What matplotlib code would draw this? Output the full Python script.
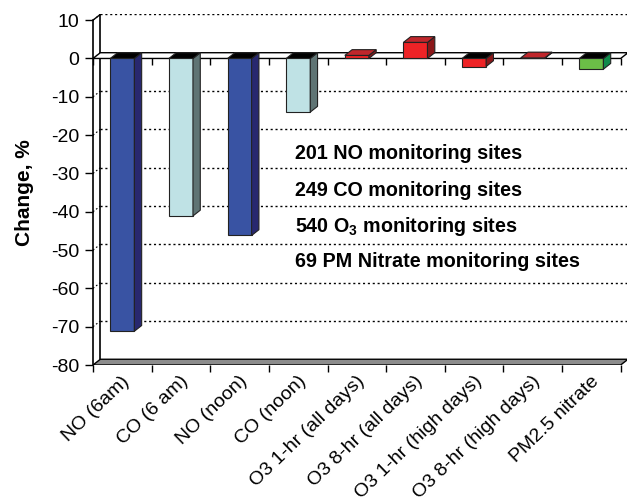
import numpy as np
import matplotlib.pyplot as plt
from matplotlib.patches import Polygon
from matplotlib.transforms import ScaledTranslation

plt.rcParams['font.family'] = 'Liberation Sans'
plt.rcParams['axes.unicode_minus'] = False
plt.rcParams['mathtext.fontset'] = 'custom'
plt.rcParams['mathtext.bf'] = 'Liberation Sans:bold'
plt.rcParams['mathtext.rm'] = 'Liberation Sans'

categories = ['NO (6am)', 'CO (6 am)', 'NO (noon)', 'CO (noon)',
              'O3 1-hr (all days)', 'O3 8-hr (all days)',
              'O3 1-hr (high days)', 'O3 8-hr (high days)', 'PM2.5 nitrate']
change = [-71.2, -41.1, -46.2, -14.0, 0.8, 4.2, -2.1, 0.15, -2.8]

# front / side / top colours per bar
front_col = ['#3953a3', '#bfe2e5', '#3953a3', '#bfe2e5',
             '#ee2326', '#ee2326', '#ee2326', '#ee2326', '#6bbf47']
side_col = ['#28286f', '#5f7474', '#28286f', '#5f7474',
            '#8b1719', '#8b1719', '#8b1719', '#8b1719', '#0f8a4b']
top_pos_col = '#c0262b'

notes = ['201 NO monitoring sites', '249 CO monitoring sites',
         r'540 O$_\mathbf{3}$ monitoring sites', '69 PM Nitrate monitoring sites']

n = len(categories)
dx, dy = 0.125, 1.5     # depth offset of the 3d box
bw = 0.41               # bar width
ymin, ymax = -80, 10

fig = plt.figure(figsize=(6.27, 5.04), dpi=100)
ax = fig.add_axes([93 / 627, 139 / 504, 535 / 627, 350.6 / 504])
ax.set_xlim(0, n + dx)
ax.set_ylim(ymin, ymax + dy)
for s in ['top', 'right', 'bottom']:
    ax.spines[s].set_visible(False)
ax.spines['left'].set_bounds(ymin, ymax)
ax.spines['left'].set_linewidth(1.2)

# back wall gridlines
grid = np.arange(ymin + 10, ymax + 1, 10)
ax.hlines(grid + dy, dx, n + dx, colors='black', lw=1, linestyles=(0, (1.5, 2)), zorder=1)
for g in grid:
    ax.plot([0, dx], [g, g + dy], color='black', lw=0.8, ls=(0, (1.5, 2)), zorder=1)
ax.plot([dx, dx], [ymin + dy, ymax + dy], color='black', lw=1.2, zorder=2)
ax.plot([0, dx], [ymax, ymax + dy], color='black', lw=1, zorder=2)

# floor at -80
ax.add_patch(Polygon([(0, ymin), (n, ymin), (n + dx, ymin + dy), (dx, ymin + dy)],
                     closed=True, fc='#8c8c8c', ec='black', lw=1, zorder=2))
# plane at 0
ax.add_patch(Polygon([(0, 0), (n, 0), (n + dx, dy), (dx, dy)],
                     closed=True, fc='white', ec='black', lw=1, zorder=2))

edges = np.arange(n + 1)
ax.vlines(edges, -1.8, 0, colors='black', lw=1, zorder=2)

for i, v in enumerate(change):
    x0 = i + 0.5 - bw / 2
    x1 = x0 + bw
    ax.add_patch(Polygon([(x0, 0), (x1, 0), (x1, v), (x0, v)], closed=True,
                         fc=front_col[i], ec='#222222', lw=0.8, zorder=4))
    ax.add_patch(Polygon([(x1, 0), (x1, v), (x1 + dx, v + dy), (x1 + dx, dy)], closed=True,
                         fc=side_col[i], ec='#222222', lw=0.8, zorder=4))
    top = max(v, 0)
    tc = top_pos_col if v > 0 else 'black'
    ax.add_patch(Polygon([(x0, top), (x1, top), (x1 + dx, top + dy), (x0 + dx, top + dy)],
                         closed=True, fc=tc, ec='#222222', lw=0.8, zorder=4))

# site counts
for t, yb in zip(notes, [-26.3, -35.9, -45.2, -54.5]):
    ax.text(3.44, yb, t, fontsize=14.2, fontweight='bold', va='baseline', ha='left', zorder=5)

ax.set_yticks(np.arange(ymin, ymax + 1, 10))
ax.tick_params(axis='y', direction='out', length=6, width=1, pad=4, labelsize=14)
ax.set_ylabel('Change, %', fontsize=15, fontweight='bold')
ax.yaxis.set_label_coords(-0.110, 0.493)

ax.set_xticks(edges)
ax.set_xticklabels([])
ax.tick_params(axis='x', which='major', direction='out', length=5, width=1)
ax.set_xticks(edges[:-1] + 0.5, minor=True)
ax.set_xticklabels(categories, minor=True, rotation=44, ha='right', va='center',
                   rotation_mode='anchor', fontsize=14)
ax.tick_params(axis='x', which='minor', length=0, pad=10)
off = ScaledTranslation(5 / 100, 0, fig.dpi_scale_trans)
for lab in ax.get_xticklabels(minor=True):
    lab.set_transform(lab.get_transform() + off)

fig.savefig('out.png', dpi=100)
